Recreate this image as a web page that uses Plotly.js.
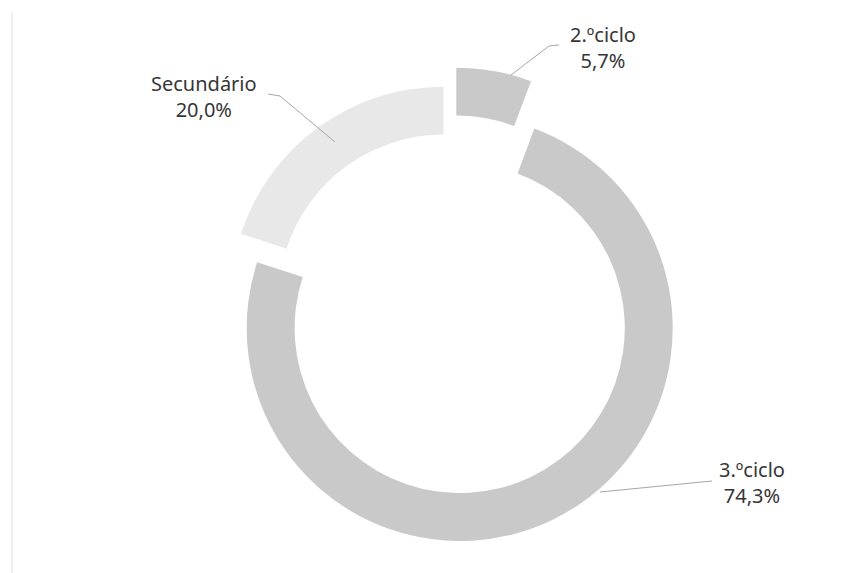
<!DOCTYPE html>
<html>
<head>
<meta charset="utf-8">
<script src="https://cdn.plot.ly/plotly-3.0.1.min.js"></script>
<style>html,body{margin:0;padding:0;background:#fff;}#chart{width:868px;height:573px;}</style>
</head>
<body>
<div id="chart"></div>
<script>
// Data
var categories = ['2.ºciclo', '3.ºciclo', 'Secundário'];
var values = [5.7, 74.3, 20.0];

// Styles (not data)
var sliceColors = ['#c9c9c9', '#c9c9c9', '#e8e8e8'];
var pulls = [0.14, 0.094, 0.06];

var W = 868, H = 573;
function px(x) { return x / W; }
function py(y) { return 1 - y / H; }

// pie box: center (451,310), outer radius 213
var R = 213, cx = 451, cy = 310;
var maxPull = Math.max.apply(null, pulls);
var half = R * (1 + maxPull);

var trace = {
  type: 'pie',
  labels: categories,
  values: values,
  sort: false,
  direction: 'clockwise',
  rotation: 0,
  hole: 0.775,
  pull: pulls,
  marker: { colors: sliceColors, line: { width: 0 } },
  textinfo: 'none',
  hoverinfo: 'label+percent',
  showlegend: false,
  domain: { x: [px(cx - half), px(cx + half)], y: [py(cy + half), py(cy - half)] }
};

function fmt(v) { return v.toFixed(1).replace('.', ',') + '%'; }

var labelPos = [[603, 47], [752, 483], [204, 97]];
var annotations = categories.map(function (c, i) {
  return {
    xref: 'paper', yref: 'paper',
    x: px(labelPos[i][0]), y: py(labelPos[i][1]),
    xanchor: 'center', yanchor: 'middle',
    text: c + '<br>' + fmt(values[i]),
    showarrow: false,
    font: { family: 'Noto Sans, Open Sans, sans-serif', size: 20, color: '#363636' }
  };
});

function pathFrom(pts) {
  return pts.map(function (p, k) { return (k ? 'L' : 'M') + px(p[0]) + ',' + py(p[1]); }).join(' ');
}
var leaderColor = '#a6a6a6';
var shapes = [
  { type: 'path', xref: 'paper', yref: 'paper', path: pathFrom([[559, 45], [549, 46], [511, 75]]), line: { color: leaderColor, width: 1 } },
  { type: 'path', xref: 'paper', yref: 'paper', path: pathFrom([[712, 481], [600, 492]]), line: { color: leaderColor, width: 1 } },
  { type: 'path', xref: 'paper', yref: 'paper', path: pathFrom([[268, 94], [280, 96], [335, 142]]), line: { color: leaderColor, width: 1 } },
  { type: 'line', xref: 'paper', yref: 'paper', x0: px(12), x1: px(12), y0: py(12), y1: py(573), line: { color: '#efefef', width: 2 } }
];

var layout = {
  width: W, height: H,
  margin: { l: 0, r: 0, t: 0, b: 0 },
  paper_bgcolor: '#ffffff',
  plot_bgcolor: '#ffffff',
  showlegend: false,
  annotations: annotations,
  shapes: shapes
};

Plotly.newPlot('chart', [trace], layout, { displayModeBar: false, staticPlot: true });
</script>
</body>
</html>
